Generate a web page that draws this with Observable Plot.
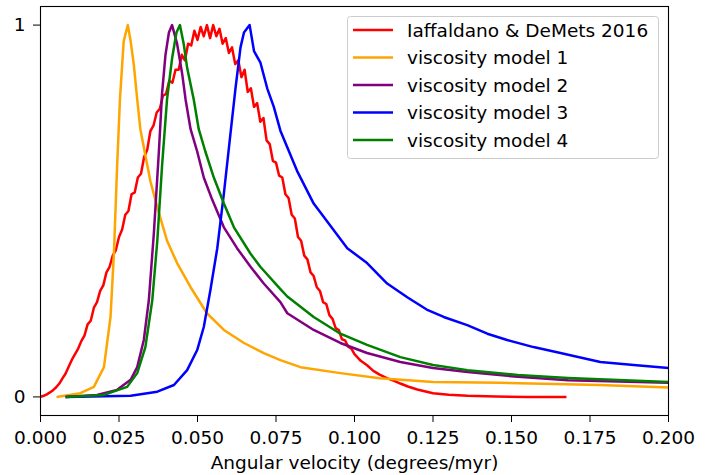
<!DOCTYPE html>
<html>
<head>
<meta charset="utf-8">
<script src="https://cdn.jsdelivr.net/npm/d3@7"></script>
<script src="https://cdn.jsdelivr.net/npm/@observablehq/plot@0.6"></script>
<style>
  html, body { margin: 0; padding: 0; background: white; }
  #chart { width: 712px; height: 475px; }
</style>
</head>
<body>
<div id="chart"></div>
<script>
// ---- data ----
const seriesNames = ["Iaffaldano & DeMets 2016", "viscosity model 1", "viscosity model 2", "viscosity model 3", "viscosity model 4"];
const seriesColors = ["#ff0000", "#ffa500", "#800080", "#0000ff", "#008000"];
const xTicks = [0, 0.025, 0.05, 0.075, 0.1, 0.125, 0.15, 0.175, 0.2];
const yTicks = [0, 1];
const xLabel = "Angular velocity (degrees/myr)";

const redX = [0,0.001,0.002,0.003,0.004,0.005,0.006,0.007,0.008,0.009,0.010,0.011,0.012,0.013,0.014,
  0.015,0.016,0.017,0.018,0.019,0.020,0.021,0.022,0.023,0.024,0.025,0.026,0.027,0.028,0.029,0.030,
  0.031,0.032,0.033,0.034,0.035,0.036,0.037,0.038,0.039,0.040,0.041,0.042,0.043,0.044,0.045,0.046,
  0.047,0.048,0.049,0.050,0.051,0.052,0.053,0.054,0.055,0.056,0.057,0.058,0.059,0.060,0.061,0.062,
  0.063,0.064,0.065,0.066,0.067,0.068,0.069,0.070,0.071,0.072,0.073,0.074,0.075,0.076,0.077,0.078,
  0.079,0.080,0.081,0.082,0.083,0.084,0.085,0.086,0.087,0.088,0.089,0.090,0.091,0.092,0.093,0.094,
  0.095,0.096,0.097,0.098,0.099,0.100,0.102,0.104,0.106,0.108,0.1105,0.113,0.1146,0.117,0.120,0.123,
  0.125,0.130,0.136,0.145,0.155,0.1675];
const redY = [0,0.003,0.007,0.012,0.018,0.026,0.036,0.05,0.063,0.082,0.10,0.115,0.13,0.15,0.165,
  0.195,0.205,0.24,0.255,0.285,0.30,0.335,0.35,0.38,0.395,0.43,0.45,0.49,0.50,0.545,0.55,
  0.59,0.60,0.645,0.665,0.715,0.73,0.765,0.775,0.81,0.815,0.85,0.845,0.88,0.88,0.92,0.905,
  0.95,0.945,0.985,0.96,0.995,0.97,1.0,0.965,1.0,0.97,0.99,0.95,0.965,0.925,0.94,0.895,
  0.905,0.86,0.88,0.82,0.83,0.78,0.79,0.74,0.75,0.69,0.68,0.635,0.63,0.595,0.59,0.545,
  0.535,0.49,0.48,0.43,0.42,0.38,0.37,0.335,0.325,0.295,0.285,0.255,0.25,0.22,0.21,0.185,
  0.18,0.155,0.152,0.135,0.13,0.115,0.097,0.085,0.07,0.06,0.05,0.042,0.036,0.028,0.02,0.014,
  0.01,0.006,0.003,0.001,0,0];

const m1X = [0.0051,0.0127,0.017,0.0202,0.0223,0.0234,0.0244,0.0253,0.0265,0.0278,0.0287,0.0297,0.0308,0.0318,0.0334,0.035,0.0372,0.0403,0.0435,0.0478,0.053,0.0584,0.0648,0.0711,0.0764,0.0828,0.0955,0.108,0.125,0.1465,0.178,0.2];
const m1Y = [0,0.01,0.027,0.08,0.215,0.39,0.62,0.80,0.957,1.0,0.957,0.895,0.80,0.72,0.65,0.58,0.51,0.42,0.36,0.295,0.225,0.18,0.145,0.118,0.099,0.08,0.064,0.05,0.04,0.038,0.032,0.025];

const m2X = [0.008,0.018,0.0244,0.0287,0.0308,0.0329,0.0345,0.0361,0.0377,0.0387,0.0398,0.0409,0.0419,0.0435,0.0451,0.0462,0.0478,0.0499,0.052,0.0547,0.0584,0.0626,0.0669,0.0711,0.0764,0.0786,0.087,0.0955,0.104,0.1146,0.125,0.136,0.152,0.168,0.2];
const m2Y = [0,0.005,0.019,0.046,0.08,0.153,0.26,0.44,0.66,0.815,0.92,0.98,1.0,0.95,0.87,0.80,0.72,0.66,0.59,0.53,0.456,0.40,0.35,0.305,0.255,0.225,0.18,0.145,0.118,0.094,0.078,0.067,0.054,0.045,0.038];

const m3X = [0.008,0.0287,0.0372,0.0425,0.0467,0.0499,0.052,0.0541,0.0563,0.0584,0.0605,0.0621,0.0637,0.0648,0.0666,0.068,0.070,0.0722,0.0743,0.0764,0.0817,0.087,0.0934,0.0977,0.104,0.1104,0.1168,0.123,0.1284,0.1359,0.1423,0.1486,0.157,0.1656,0.1698,0.1783,0.1889,0.2];
const m3Y = [0,0.003,0.014,0.032,0.072,0.126,0.188,0.287,0.40,0.547,0.708,0.83,0.94,0.98,1.0,0.93,0.90,0.83,0.78,0.716,0.608,0.52,0.448,0.40,0.36,0.305,0.268,0.235,0.215,0.193,0.17,0.153,0.134,0.118,0.11,0.094,0.086,0.078];

const m4X = [0.008,0.020,0.0276,0.0308,0.0334,0.0356,0.0372,0.0387,0.0403,0.0419,0.0433,0.0444,0.0456,0.0467,0.0488,0.0504,0.0525,0.0552,0.0584,0.0616,0.0669,0.070,0.0764,0.0786,0.087,0.0955,0.104,0.1146,0.125,0.136,0.152,0.168,0.2];
const m4Y = [0,0.005,0.027,0.064,0.134,0.26,0.42,0.62,0.80,0.91,0.98,1.0,0.95,0.885,0.80,0.72,0.66,0.59,0.52,0.456,0.385,0.35,0.29,0.27,0.215,0.17,0.14,0.107,0.086,0.072,0.059,0.051,0.04];

// ---- build tables ----
const allX = [redX, m1X, m2X, m3X, m4X];
const allY = [redY, m1Y, m2Y, m3Y, m4Y];
const tables = allX.map((xs, i) => xs.map((x, j) => ({x, y: allY[i][j]})));

const lineMarks = tables.map((t, i) =>
  Plot.line(t, {x: "x", y: "y", stroke: seriesColors[i], strokeWidth: 2.5, strokeLinejoin: "round", strokeLinecap: "butt"})
);

const chart = Plot.plot({
  width: 712,
  height: 475,
  marginLeft: 40,
  marginRight: 44,
  marginTop: 6,
  marginBottom: 60,
  style: {fontFamily: "'DejaVu Sans', sans-serif", fontSize: "18.5px", background: "white", color: "black", overflow: "visible"},
  x: {domain: [0, 0.2]},
  y: {domain: [-0.05, 1.05]},
  marks: [
    ...lineMarks,
    Plot.frame({stroke: "black", strokeWidth: 1.1}),
    Plot.axisX({ticks: xTicks, tickFormat: d3.format(".3f"), tickSize: 7, tickPadding: 8, fontSize: 18.5, label: null}),
    Plot.axisY({ticks: yTicks, tickFormat: d3.format("d"), tickSize: 7, tickPadding: 8, fontSize: 18.5, label: null}),
    Plot.text([xLabel], {text: d => d, frameAnchor: "bottom", dy: 53, lineAnchor: "bottom", fontSize: 18.5})
  ]
});

document.getElementById("chart").appendChild(chart);

// ---- legend (matplotlib style, upper right) ----
const svg = d3.select(chart);
const lg = svg.append("g")
  .attr("font-family", "'DejaVu Sans', sans-serif")
  .attr("font-size", 18.5)
  .attr("text-anchor", "start");
lg.append("rect")
  .attr("x", 347.5).attr("y", 16.5).attr("width", 311).attr("height", 142)
  .attr("rx", 3).attr("fill", "white").attr("fill-opacity", 0.8)
  .attr("stroke", "#cccccc").attr("stroke-width", 1);
seriesNames.forEach((name, i) => {
  const cy = 30 + i * 27.5;
  lg.append("line").attr("x1", 353).attr("x2", 393).attr("y1", cy).attr("y2", cy)
    .attr("stroke", seriesColors[i]).attr("stroke-width", 2.5);
  lg.append("text").attr("x", 407).attr("y", cy).attr("dy", "0.36em")
    .attr("text-anchor", "start").attr("fill", "black").text(name);
});
</script>
</body>
</html>
